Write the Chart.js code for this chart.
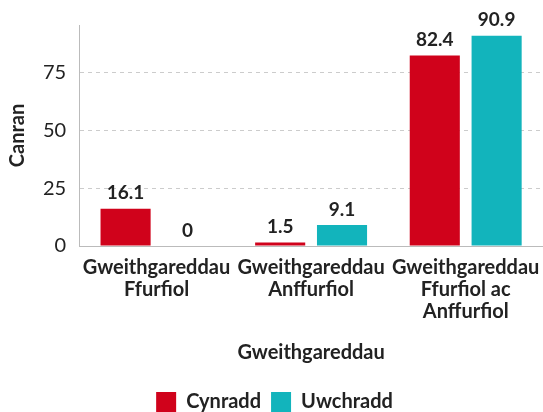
<!DOCTYPE html>
<html>
<head>
<meta charset="utf-8">
<script src="https://cdn.jsdelivr.net/npm/chart.js@4"></script>
<style>
  html, body { margin: 0; padding: 0; background: #fff; }
  #wrap { width: 543px; height: 412px; }
</style>
</head>
<body>
<div id="wrap"><canvas id="barChart" width="543" height="412"></canvas></div>
<script>
var categories = [
    ["Gweithgareddau", "Ffurfiol"],
    ["Gweithgareddau", "Anffurfiol"],
    ["Gweithgareddau", "Ffurfiol ac", "Anffurfiol"]
];
var primary = [16.1, 1.5, 82.4];
var secondary = [0, 9.1, 90.9];
var seriesNames = ["Cynradd", "Uwchradd"];
var seriesColors = ["#d0021b", "#12b4bc"];

var font = "Lato";

// Print the value above each bar.
const valueLabels = {
    id: 'valueLabels',
    afterDatasetsDraw(chart) {
        const ctx = chart.ctx;
        ctx.save();
        ctx.font = "bold 19px " + font;
        ctx.fillStyle = "#222";
        ctx.textAlign = "center";
        ctx.textBaseline = "bottom";
        chart.data.datasets.forEach((ds, i) => {
            chart.getDatasetMeta(i).data.forEach((bar, j) => {
                ctx.fillText(String(ds.data[j]), bar.x, bar.y - 6);
            });
        });
        ctx.restore();
    }
};

const ctx = document.getElementById('barChart').getContext('2d');
const myChart = new Chart(ctx, {
    type: 'bar',
    data: {
        labels: categories,
        datasets: [{
            label: seriesNames[0],
            data: primary,
            backgroundColor: seriesColors[0]
        }, {
            label: seriesNames[1],
            data: secondary,
            backgroundColor: seriesColors[1]
        }]
    },
    options: {
        responsive: false,
        animation: false,
        events: [],
        layout: { padding: { top: 14, right: 0, left: 6, bottom: -10 } },
        datasets: {
            bar: { barPercentage: 0.81, categoryPercentage: 0.8 }
        },
        plugins: {
            legend: {
                position: 'bottom',
                labels: {
                    boxWidth: 20,
                    boxHeight: 20,
                    padding: 10,
                    color: "#222",
                    font: { family: font, size: 20, weight: 'bold' }
                }
            },
            tooltip: { enabled: false }
        },
        scales: {
            x: {
                grid: { display: false },
                border: { color: "#bbb", width: 1 },
                ticks: {
                    color: "#222",
                    padding: 3,
                    maxRotation: 0,
                    font: { family: font, size: 20, weight: 'bold', lineHeight: 1.1 }
                },
                title: {
                    display: true,
                    text: "Gweithgareddau",
                    color: "#222",
                    padding: { top: 15, bottom: 17 },
                    font: { family: font, size: 20, weight: 'bold' }
                }
            },
            y: {
                min: 0,
                max: 95.6,
                border: { color: "#bbb", width: 1, dash: [4, 4] },
                grid: {
                    drawTicks: false,
                    color: (c) => (c.tick && c.tick.value % 25 === 0) ? "#ccc" : "transparent"
                },
                ticks: {
                    stepSize: 25,
                    padding: 13,
                    color: "#222",
                    font: { family: font, size: 20 },
                    callback: (v) => (v % 25 === 0) ? v : ''
                },
                title: {
                    display: true,
                    text: "Canran",
                    color: "#222",
                    padding: { top: 0, bottom: 0 },
                    font: { family: font, size: 20, weight: 'bold' }
                }
            }
        }
    },
    plugins: [valueLabels]
});
</script>
</body>
</html>
